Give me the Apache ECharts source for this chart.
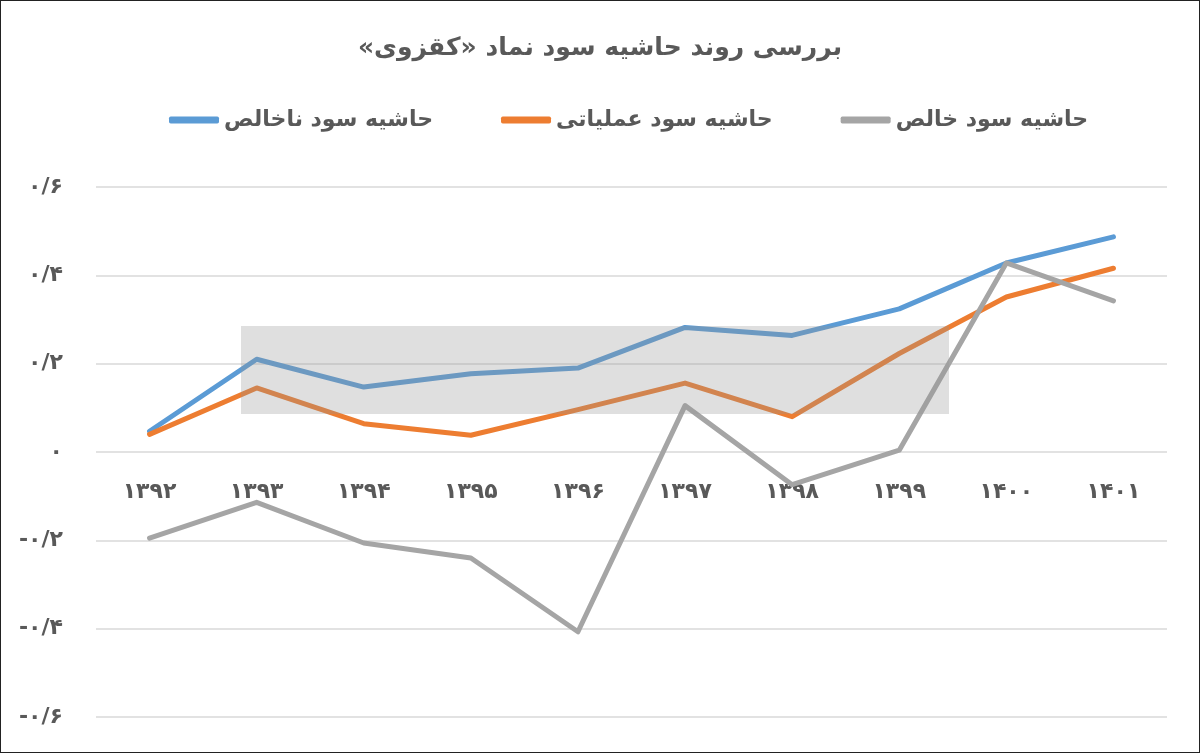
<!DOCTYPE html>
<html>
<head>
<meta charset="utf-8">
<script src="https://cdn.jsdelivr.net/npm/echarts@6/dist/echarts.min.js"></script>
<style>
  html, body { margin: 0; padding: 0; background: #fff; }
  #chart { width: 1200px; height: 753px; box-sizing: border-box; border: 1px solid #222; }
</style>
</head>
<body>
<div id="chart"></div>
<script>
// سال‌ها
const years = ['1392', '1393', '1394', '1395', '1396', '1397', '1398', '1399', '1400', '1401']
// حاشیه سود ناخالص
const grossMargin = [0.047, 0.210, 0.147, 0.177, 0.190, 0.282, 0.264, 0.324, 0.428, 0.487]
// حاشیه سود عملیاتی
const operatingMargin = [0.040, 0.145, 0.064, 0.038, 0.096, 0.156, 0.080, 0.223, 0.351, 0.416]
// حاشیه سود خالص
const netMargin = [-0.195, -0.114, -0.206, -0.240, -0.407, 0.105, -0.074, 0.004, 0.428, 0.342]

const seriesNames = ['حاشیه سود ناخالص', 'حاشیه سود عملیاتی', 'حاشیه سود خالص']
const colors = ['#5B9BD5', '#ED7D31', '#A5A5A5']
const titleText = 'بررسی روند حاشیه سود نماد «کقزوی»'

const RLM = '\u200F'
const faDigits = '۰۱۲۳۴۵۶۷۸۹'
function toFa (s) {
  return String(s).replace(/[0-9]/g, d => faDigits[+d])
}
function fmtValue (v) {
  if (Math.abs(v) < 1e-9) return '۰'
  return toFa(v.toFixed(1).replace('.', '/'))
}

const font = '"DejaVu Sans", sans-serif'
const textColor = '#595959'
const gridColor = '#d9d9d9'

const chart = echarts.init(document.getElementById('chart'))

const makeSeries = (name, data, color) => ({
  name,
  type: 'line',
  data,
  symbol: 'none',
  lineStyle: { width: 5, color, cap: 'round', join: 'round' },
  itemStyle: { color },
  z: 3
})

chart.setOption({
  backgroundColor: '#fff',
  animation: false,
  color: colors,
  title: {
    text: RLM + titleText + RLM,
    left: 'center',
    top: 30,
    textStyle: { fontFamily: font, fontSize: 25, fontWeight: 'bold', color: textColor }
  },
  legend: {
    data: seriesNames,
    top: 103,
    left: 163,
    itemGap: 68,
    itemWidth: 50,
    itemHeight: 7,
    icon: 'roundRect',
    textStyle: { fontFamily: font, fontSize: 22, fontWeight: 'bold', color: textColor, padding: [0, 0, 0, 0] }
  },
  grid: { left: 95, right: 32, top: 186, bottom: 35 },
  xAxis: {
    type: 'category',
    data: years,
    boundaryGap: true,
    position: 'bottom',
    offset: 0,
    axisLine: { show: false, onZero: false },
    axisTick: { show: false },
    axisLabel: {
      margin: 24,
      fontFamily: font,
      fontSize: 22,
      fontWeight: 'bold',
      color: textColor,
      formatter: v => toFa(v)
    },
    splitLine: { show: false }
  },
  yAxis: {
    type: 'value',
    min: -0.6,
    max: 0.6,
    interval: 0.2,
    axisLine: { show: false },
    axisTick: { show: false },
    axisLabel: {
      margin: 33,
      fontFamily: font,
      fontSize: 22,
      fontWeight: 'bold',
      color: textColor,
      formatter: v => fmtValue(v)
    },
    splitLine: { lineStyle: { color: gridColor, width: 1.5 } }
  },
  series: [
    makeSeries(seriesNames[0], grossMargin, colors[0]),
    makeSeries(seriesNames[1], operatingMargin, colors[1]),
    makeSeries(seriesNames[2], netMargin, colors[2])
  ],
  graphic: [
    {
      // واترمارک
      type: 'rect',
      left: 240,
      top: 325,
      shape: { width: 708, height: 88 },
      style: { fill: 'rgba(150,150,150,0.3)' },
      z: 10,
      silent: true
    }
  ]
})

// برچسب‌های سال روی خط صفر قرار می‌گیرند
const zeroY = chart.convertToPixel({ yAxisIndex: 0 }, 0)
const bottomY = chart.convertToPixel({ yAxisIndex: 0 }, -0.6)
chart.setOption({ xAxis: { offset: -(bottomY - zeroY) } })
</script>
</body>
</html>
